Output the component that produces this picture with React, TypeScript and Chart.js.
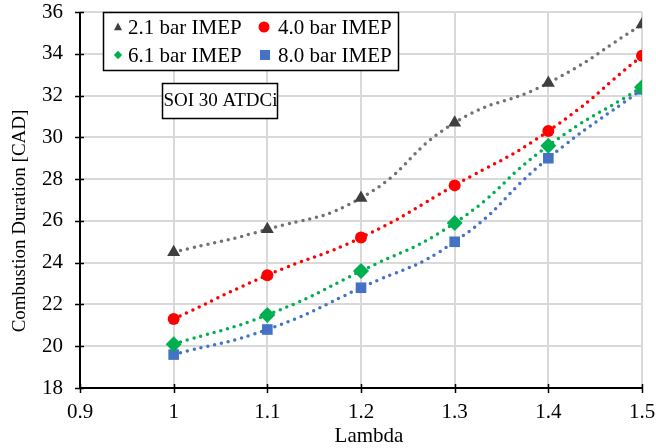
import React, { useEffect, useRef } from "react";
import { Chart, registerables } from "chart.js";

Chart.register(...registerables);

const lambdas = [1.0, 1.1, 1.2, 1.3, 1.4, 1.5];
const imep21 = [24.5, 25.6, 27.1, 30.7, 32.6, 35.4];
const imep40 = [21.3, 23.4, 25.2, 27.7, 30.3, 33.9];
const imep61 = [20.1, 21.5, 23.6, 25.9, 29.6, 32.4];
const imep80 = [19.6, 20.8, 22.8, 25.0, 29.0, 32.3];
const seriesLabels = ["2.1 bar IMEP", "4.0 bar IMEP", "6.1 bar IMEP", "8.0 bar IMEP"];
const annotationText = "SOI 30 ATDCi";
const xTitle = "Lambda";
const yTitle = "Combustion Duration [CAD]";

const FONT = "'Liberation Serif', serif";

const pts = (ys: number[]) => lambdas.map((x, i) => ({ x, y: ys[i] }));

function drawMarker(ctx: CanvasRenderingContext2D, style: string, r: number, x: number, y: number) {
  ctx.beginPath();
  if (style === "circle") {
    ctx.arc(x, y, r, 0, Math.PI * 2);
  } else if (style === "rect") {
    ctx.rect(x - r, y - r, 2 * r, 2 * r);
  } else if (style === "rectRot") {
    ctx.moveTo(x, y - r * 1.2);
    ctx.lineTo(x + r * 1.2, y);
    ctx.lineTo(x, y + r * 1.2);
    ctx.lineTo(x - r * 1.2, y);
    ctx.closePath();
  } else if (style === "triangle") {
    ctx.moveTo(x, y - r * 1.1);
    ctx.lineTo(x + r, y + r * 0.8);
    ctx.lineTo(x - r, y + r * 0.8);
    ctx.closePath();
  }
  ctx.fill();
}

const overlayPlugin = {
  id: "overlay",
  afterDraw(chart: any) {
    const { ctx, chartArea, scales } = chart;
    const xs = scales.x;
    const ys = scales.y;
    ctx.save();
    // axes lines
    ctx.strokeStyle = "#000";
    ctx.lineWidth = 2;
    ctx.beginPath();
    ctx.moveTo(chartArea.left, chartArea.top);
    ctx.lineTo(chartArea.left, chartArea.bottom);
    ctx.lineTo(chartArea.right, chartArea.bottom);
    ctx.stroke();
    ctx.lineWidth = 1.5;
    ctx.beginPath();
    xs.ticks.forEach((t: any) => {
      const px = Math.round(xs.getPixelForValue(t.value)) + 0.5;
      ctx.moveTo(px, chartArea.bottom - 4);
      ctx.lineTo(px, chartArea.bottom + 5);
    });
    ys.ticks.forEach((t: any) => {
      const py = Math.round(ys.getPixelForValue(t.value)) + 0.5;
      ctx.moveTo(chartArea.left - 5, py);
      ctx.lineTo(chartArea.left + 4, py);
    });
    ctx.stroke();

    // axis titles
    ctx.fillStyle = "#000";
    ctx.textAlign = "center";
    ctx.textBaseline = "middle";
    ctx.font = `21px ${FONT}`;
    ctx.fillText(xTitle, 369, 436);
    ctx.save();
    ctx.translate(20, 221);
    ctx.rotate(-Math.PI / 2);
    ctx.font = `19px ${FONT}`;
    ctx.fillText(yTitle, 0, 0);
    ctx.restore();

    // legend box
    const lx = 103, ly = 12, lw = 295, lh = 58;
    ctx.fillStyle = "#fff";
    ctx.fillRect(lx, ly, lw, lh);
    ctx.strokeStyle = "#000";
    ctx.lineWidth = 1.5;
    ctx.strokeRect(lx + 0.5, ly + 0.5, lw, lh);
    ctx.font = `21px ${FONT}`;
    ctx.textBaseline = "middle";
    ctx.textAlign = "left";
    const pos = [
      [118, 27, 128],
      [264, 27, 278],
      [118, 55, 128],
      [265, 55, 278],
    ];
    const sizes = [4, 5.5, 3.5, 5];
    chart.data.datasets.forEach((ds: any, i: number) => {
      ctx.fillStyle = ds.pointBackgroundColor;
      drawMarker(ctx, ds.pointStyle, sizes[i], pos[i][0], pos[i][1]);
      ctx.fillStyle = "#000";
      ctx.fillText(ds.label, pos[i][2], pos[i][1] + 1);
    });

    // annotation box
    const ax = 162, ay = 83, aw = 115, ah = 35;
    ctx.fillStyle = "#fff";
    ctx.fillRect(ax, ay, aw, ah);
    ctx.strokeStyle = "#000";
    ctx.lineWidth = 1.5;
    ctx.strokeRect(ax + 0.5, ay + 0.5, aw, ah);
    ctx.fillStyle = "#000";
    ctx.font = `19px ${FONT}`;
    ctx.textAlign = "center";
    ctx.fillText(annotationText, ax + aw / 2 + 1, ay + ah / 2 + 1);
    ctx.restore();
  },
};

export default function App() {
  const ref = useRef<HTMLCanvasElement | null>(null);
  useEffect(() => {
    document.body.style.margin = "0";
    const mk = (label: string, data: number[], line: string, fill: string, style: string, radius: number) => ({
      label,
      data: pts(data),
      borderColor: line,
      backgroundColor: fill,
      pointBackgroundColor: fill,
      pointBorderColor: fill,
      pointStyle: style,
      pointRadius: radius,
      pointBorderWidth: 0,
      borderWidth: 3.5,
      borderDash: [0, 7],
      borderCapStyle: "round",
      tension: 0.5,
      fill: false,
    });
    const chart = new Chart(ref.current!, {
      type: "line",
      data: {
        datasets: [
          mk(seriesLabels[0], imep21, "#767171", "#3f3f3f", "triangle", 7.5),
          mk(seriesLabels[1], imep40, "#ff0000", "#ff0000", "circle", 6),
          mk(seriesLabels[2], imep61, "#00b050", "#00b050", "rectRot", 8),
          mk(seriesLabels[3], imep80, "#4472c4", "#4472c4", "rect", 7.5),
        ] as any,
      },
      options: {
        animation: false,
        responsive: false,
        maintainAspectRatio: false,
        layout: { padding: { top: 12, right: 14, left: 0, bottom: 0 } },
        plugins: { legend: { display: false }, tooltip: { enabled: false } },
        scales: {
          x: {
            type: "linear",
            min: 0.9,
            max: 1.5,
            ticks: {
              stepSize: 0.1,
              color: "#000",
              font: { family: FONT, size: 21 },
              padding: 12,
              maxRotation: 0,
              callback: (v: any) => String(Math.round(Number(v) * 10) / 10),
            },
            grid: { color: "#d9d9d9", lineWidth: 2, drawTicks: false },
            border: { display: false },
            afterFit: (s: any) => {
              s.height = 60;
              s.paddingLeft = 0;
              s.paddingRight = 0;
            },
          },
          y: {
            min: 18,
            max: 36,
            ticks: {
              stepSize: 2,
              color: "#000",
              font: { family: FONT, size: 21 },
              padding: 17,
            },
            grid: { color: "#d9d9d9", lineWidth: 2, drawTicks: false },
            border: { display: false },
            afterFit: (s: any) => {
              s.width = 80;
              s.paddingTop = 0;
              s.paddingBottom = 0;
            },
          },
        },
      },
      plugins: [overlayPlugin],
    } as any);
    return () => chart.destroy();
  }, []);
  return <canvas ref={ref} width={656} height={448} style={{ display: "block" }} />;
}
